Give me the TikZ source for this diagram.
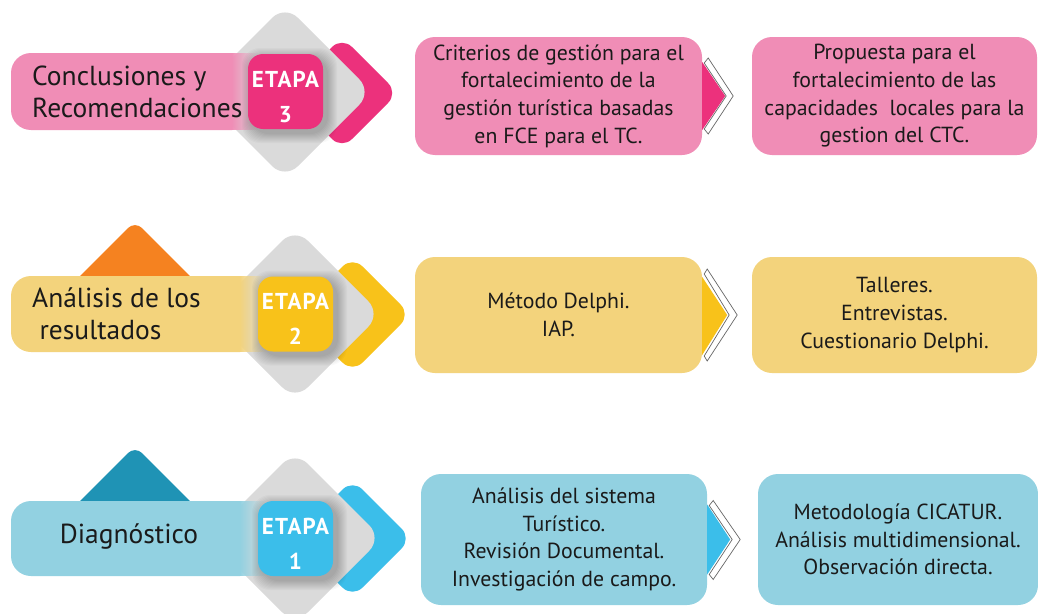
\documentclass[tikz,border=0pt]{standalone}
\usepackage{fontspec}
\setmainfont{PT Sans}
\usetikzlibrary{calc,fadings}
\definecolor{pinkL}{HTML}{F08DB6}
\definecolor{pinkD}{HTML}{EC317C}
\definecolor{yelL}{HTML}{F3D37C}
\definecolor{yelD}{HTML}{F8C21A}
\definecolor{orngD}{HTML}{F58220}
\definecolor{bluL}{HTML}{92D1E1}
\definecolor{bluD}{HTML}{3BBEEA}
\definecolor{tealD}{HTML}{1F93B5}
\definecolor{grayD}{HTML}{DADADA}
\definecolor{txt}{HTML}{1A1A1A}
\newcommand\mydia[5]{\fill[#1,rounded corners=#5pt] ({#2},{#3-#4}) -- ({#2+#4},{#3}) -- ({#2},{#3+#4}) -- ({#2-#4},{#3}) -- cycle;}
\newcommand\myshadow[2]{\foreach \k in {1,...,10}{\fill[black,opacity=0.022,rounded corners=18pt] ({#1+4-37.5-\k},{#2+4-37.5-\k}) rectangle ({#1+4+37.5+\k},{#2+4+37.5+\k});}}
\tikzset{
  rbox/.style={fill=#1, rounded corners=20pt, inner sep=0pt, align=center,
    font=\fontsize{21.8}{27.7}\selectfont, text=txt},
  etbox/.style={fill=#1, rounded corners=15pt, minimum width=75pt, minimum height=75pt, inner sep=0pt},
  ettxt/.style={text=white, align=center, inner sep=0pt,
    font=\fontsize{23}{35}\selectfont\bfseries\addfontfeatures{LetterSpace=5}},
  lbl/.style={text=txt, align=left, inner sep=0pt, font=\fontsize{27.5}{32}\selectfont},
  chevw/.style={fill=white, draw=black!60, line width=0.7pt, line join=miter},
}
\begin{document}
\begin{tikzpicture}[x=1pt,y=-1pt]
\useasboundingbox (0,0) rectangle (1038,613);
\fill[white] (0,0) rectangle (1038,613);

% ================= Row 3 =================
\mydia{pinkD}{342}{93}{56}{14}
\mydia{grayD}{285}{92}{87}{18}
\begin{scope}
  \clip (0,0) rectangle (232,200);
  \fill[pinkL, rounded corners=20pt] (11,53) rectangle (300,130);
\end{scope}
\fill[pinkL, path fading=east] (231.5,53) rectangle (258,130);
\myshadow{285.5}{91.5}
\node[etbox=pinkD] (e3) at (285.5,91.5) {};
\node[ettxt] (t3) at ($(e3.center)+(0,5)$) {ETAPA\\3};
\node[lbl, anchor=west] (l3) at (32,91.5) {Conclusiones y\\Recomendaciones};

\node[rbox=pinkL, minimum width=287pt, minimum height=118pt] (r3a) at (558.5,96)
  {Criterios de gestión para el\\fortalecimiento de la\\gestión turística basadas\\en FCE para el TC.};
\node[rbox=pinkL, minimum width=285pt, minimum height=118pt] (r3b) at (894.5,96)
  {Propuesta para el\\fortalecimiento de las\\capacidades\ \ locales para la\\gestion del CTC.};
\begin{scope}[shift={(r3a.east)}]
  \fill[pinkD] (0,-34) -- (23,0) -- (0,34) -- cycle;
  \path[chevw] (2,-33) -- (6,-38) -- (31,0) -- (6,38) -- (2,33) -- (24,0) -- cycle;
\end{scope}

% ================= Row 2 =================
\mydia{orngD}{135}{283}{62}{10}
\mydia{yelD}{352.5}{314.5}{58}{14}
\mydia{grayD}{295}{314}{86}{18}
\begin{scope}
  \clip (0,200) rectangle (240,400);
  \fill[yelL, rounded corners=20pt] (11,276) rectangle (310,352);
\end{scope}
\fill[yelL, path fading=east] (239.5,276) rectangle (266,352);
\myshadow{295.5}{314}
\node[etbox=yelD] (e2) at (295.5,314) {};
\node[ettxt] (t2) at ($(e2.center)+(0,5)$) {ETAPA\\2};
\node[lbl, anchor=west] (l2) at (32,314) {Análisis de los\\\ resultados};

\node[rbox=yelL, minimum width=287pt, minimum height=116pt] (r2a) at (558.5,315)
  {Método Delphi.\\IAP.};
\node[rbox=yelL, minimum width=285pt, minimum height=116pt] (r2b) at (894.5,315)
  {Talleres.\\Entrevistas.\\Cuestionario Delphi.};
\begin{scope}[shift={(r2a.east)}]
  \fill[yelD] (0,-38) -- (25,0) -- (0,40) -- cycle;
  \path[chevw] (2,-41) -- (5,-46) -- (35,0) -- (5,46) -- (2,41) -- (27,0) -- cycle;
\end{scope}

% ================= Row 1 =================
\mydia{tealD}{135}{508}{62}{10}
\mydia{bluD}{352.5}{538.5}{59}{14}
\mydia{grayD}{295}{538}{87}{18}
\begin{scope}
  \clip (0,420) rectangle (240,613);
  \fill[bluL, rounded corners=20pt] (11,501) rectangle (310,576);
\end{scope}
\fill[bluL, path fading=east] (239.5,501) rectangle (266,576);
\myshadow{295.5}{538.5}
\node[etbox=bluD] (e1) at (295.5,538.5) {};
\node[ettxt] (t1) at ($(e1.center)+(0,5)$) {ETAPA\\1};
\node[lbl, anchor=center] (l1) at (129,537) {Diagnóstico};

\node[rbox=bluL, minimum width=286pt, minimum height=131pt] (r1a) at (564,539.5)
  {Análisis del sistema\\Turístico.\\Revisión Documental.\\Investigación de campo.};
\node[rbox=bluL, minimum width=280pt, minimum height=131pt] (r1b) at (898,539.5)
  {Metodología CICATUR.\\Análisis multidimensional.\\Observación directa.};
\begin{scope}[shift={(r1a.east)}]
  \fill[bluD] (0,-35) -- (23,0) -- (0,35) -- cycle;
  \path[chevw] (2,-34) -- (6,-39) -- (33,0) -- (6,40) -- (2,35) -- (25,0) -- cycle;
\end{scope}
\end{tikzpicture}
\end{document}
